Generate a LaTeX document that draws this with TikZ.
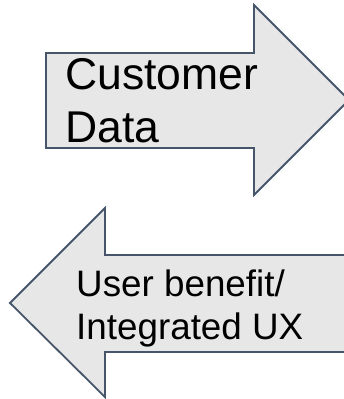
\documentclass[tikz,border=0pt]{standalone}
\usepackage{fontspec}
\setmainfont{Liberation Sans}
\definecolor{arrowfill}{RGB}{231,231,231}
\definecolor{arrowline}{RGB}{70,85,106}
\tikzset{
  bigarrow/.style={fill=arrowfill,draw=arrowline,line width=1.8pt,line join=miter},
  bigtext/.style={inner sep=0pt,anchor=north west,align=left,font=\fontsize{44.5}{53}\selectfont},
  smalltext/.style={inner sep=0pt,anchor=north west,align=left,font=\fontsize{36.8}{43}\selectfont}
}
\begin{document}
\begin{tikzpicture}[x=1pt,y=-1pt]
   \useasboundingbox (0,0) rectangle (343,399);
   \draw[bigarrow]
   (46,53) -- (254,53) -- (254,5) -- (349,100) -- (254,195) -- (254,148) -- (46,148) -- cycle;
   \draw[bigarrow]
   (346,255) -- (105,255) -- (105,208) -- (10,303) -- (105,397) -- (105,352) -- (346,352) -- cycle;
   \node[bigtext] (customer) at (65,58) {Customer\\Data};
   \node[smalltext] (benefit) at (76,270) {User benefit/\\Integrated UX};
 \end{tikzpicture}
\end{document}
